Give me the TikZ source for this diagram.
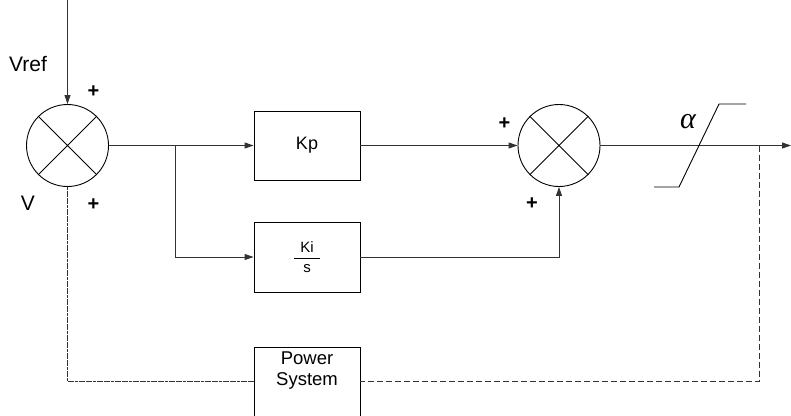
\documentclass[tikz,border=0pt]{standalone}
\usepackage{fontspec}
\setmainfont{Liberation Sans}
\newfontfamily\alphafont{Liberation Serif}
\usetikzlibrary{arrows.meta}
\begin{document}
\begin{tikzpicture}[x=1pt,y=-1pt,
  line/.style={draw=black!80, line width=0.9pt},
  arr/.style={line, -{Triangle[length=9pt,width=6pt]}},
  sumj/.style={circle, draw=black, line width=0.9pt, minimum size=82pt, inner sep=0pt},
  blk/.style={draw=black, line width=0.9pt, minimum width=106pt, minimum height=69pt, inner sep=0pt, font=\fontsize{18}{22}\selectfont},
  lbl/.style={font=\fontsize{21}{25}\selectfont, inner sep=0pt},
  sgn/.style={font=\fontsize{20}{24}\selectfont\bfseries, inner sep=0pt},
  fb/.style={line, dash pattern=on 6pt off 3pt},
  fbs/.style={line, dash pattern=on 3pt off 0.6pt}
]
\clip (0,0) rectangle (791,415);
% nodes
\node[sumj] (sum1) at (67.5,145.5) {};
\node[sumj] (sum2) at (559,145.5) {};
\node[blk] (kp) at (307,145.5) {Kp};
\node[blk, minimum height=70pt] (ki) at (307,257) {\fontsize{15}{18}\selectfont$\displaystyle\frac{\makebox[26pt]{Ki}}{\mbox{s}}$};
\node[blk, minimum height=90pt] (psys) at (307,392) {};
\node[inner sep=0pt, font=\fontsize{18.5}{21}\selectfont, align=center, anchor=north] (pstxt) at (307,352) {Power\\System};
% cross marks
\draw[line, draw=black] (sum1.north west) -- (sum1.south east) (sum1.north east) -- (sum1.south west);
\draw[line, draw=black] (sum2.north west) -- (sum2.south east) (sum2.north east) -- (sum2.south west);
% coordinates
\coordinate (in) at (67.5,0);
\coordinate (br) at (175,145.5);
\coordinate (out) at (791,145.5);
\coordinate (tap) at (759,145.5);
\coordinate (fbL) at (67.5,381);
\coordinate (fbR) at (759,381);
% connectors
\draw[arr] (in) -- (sum1.north);
\draw[arr] (sum1.east) -- (kp.west);
\draw[arr] (br) |- (ki.west);
\draw[arr] (kp.east) -- (sum2.west);
\draw[arr] (ki.east) -| (sum2.south);
\draw[arr] (sum2.east) -- (out);
\draw[fbs] (sum1.south) -- (fbL) -- (fbL -| psys.west);
\draw[fb] (tap) -- (fbR) -- (fbR -| psys.east);
% saturation
\draw[line, draw=black] (654,187) -- (679,187) -- (719,104) -- (746,104);
\node[inner sep=0pt, font=\alphafont\itshape\fontsize{30}{34}\selectfont] (alpha) at (688,121.5) {α};
% labels
\node[lbl] (vref) at (28,64.5) {Vref};
\node[lbl] (v) at (28,203) {V};
\node[sgn] (p1) at (93.5,92) {+};
\node[sgn] (p2) at (93.5,205) {+};
\node[sgn] (p3) at (504.5,124) {+};
\node[sgn] (p4) at (532,204) {+};
\end{tikzpicture}
\end{document}
